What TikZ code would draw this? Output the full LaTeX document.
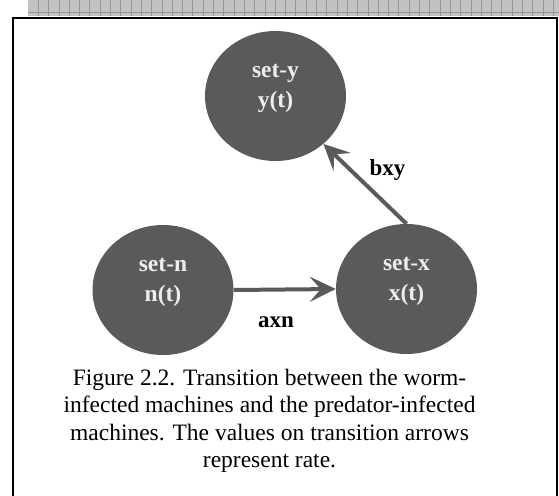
\documentclass[tikz,border=0pt]{standalone}
\usepackage{fontspec}
\setmainfont{Liberation Serif}
\usetikzlibrary{arrows.meta,shapes.geometric}
\definecolor{circgray}{HTML}{5A5A5A}
\definecolor{circtxt}{HTML}{EDEDED}
\definecolor{bandgray}{HTML}{C2C2C2}
\definecolor{bandline}{HTML}{959595}
\tikzset{
  setcirc/.style={ellipse, fill=circgray, minimum width=141pt, minimum height=130pt, inner sep=0pt},
  settext/.style={text=circtxt, font=\fontsize{23.5}{30}\selectfont\bfseries, align=center, inner sep=0pt},
  rate/.style={font=\fontsize{23}{26}\selectfont\bfseries, inner sep=0pt},
  flow/.style={draw=circgray, line width=4pt, -{Stealth[length=26pt, width=25pt, inset=11pt]}},
  caption/.style={font=\fontsize{23.5}{27.5}\selectfont, inner sep=0pt}
}
\begin{document}
\begin{tikzpicture}[x=1pt, y=-1pt]
\useasboundingbox (0,0) rectangle (559,495);
% hatched band
\fill[bandgray] (28,0) rectangle (559,16);
\foreach \i in {0,...,51} {
  \draw[bandline, line width=0.8pt] ({38.3+10.3*\i},0) -- ({38.3+10.3*\i},16);
}
\draw[bandline, line width=0.8pt] (28,12) -- (559,12);
% frame
\draw[line width=2pt] (13,497) -- (13,18) -- (557,18) -- (557,497);
% sets
\node[setcirc] (y) at (275.5,96) {};
\node[setcirc] (n) at (163,290) {};
\node[setcirc] (x) at (406.5,289) {};
\node[settext] (ty) at (275.5,88) {set-y\\y(t)};
\node[settext] (tn) at (163,282) {set-n\\n(t)};
\node[settext] (tx) at (406.5,281) {set-x\\x(t)};
% transitions
\draw[flow] (n.east) -- (x.west);
\draw[flow] (x.north) -- (y.-45);
\node[rate, anchor=base] (axn) at (276,327) {axn};
\node[rate, anchor=base] (bxy) at (387.5,175) {bxy};
% caption
\node[caption, anchor=base] (cap) at (269.5,385) {Figure 2.2. Transition between the worm-};
\node[caption, anchor=base] (cap2) at (269.5,412.5) {infected machines and the predator-infected};
\node[caption, anchor=base] (cap3) at (269.5,440) {machines. The values on transition arrows};
\node[caption, anchor=base] (cap4) at (269.5,467) {represent rate.};
\end{tikzpicture}
\end{document}
